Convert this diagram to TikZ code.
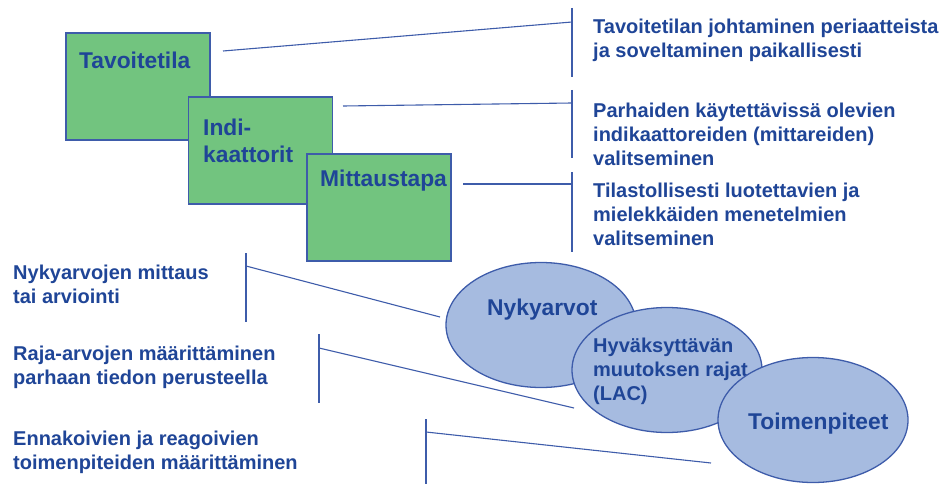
\documentclass[tikz,border=0pt]{standalone}
\usepackage{fontspec}
\setmainfont{Liberation Sans}
\usepackage{xcolor}
\usetikzlibrary{shapes.geometric,positioning,calc}
\definecolor{txtblue}{RGB}{31,69,151}
\definecolor{lineblue}{RGB}{62,92,170}
\definecolor{boxgreen}{RGB}{114,196,127}
\definecolor{ellblue}{RGB}{166,187,224}
\begin{document}
\begin{tikzpicture}[x=1pt,y=-1pt,
		small/.style={text=txtblue,font=\bfseries\fontsize{20}{24}\selectfont,align=left,inner sep=0pt,anchor=base west},
		big/.style={text=txtblue,font=\bfseries\fontsize{22.8}{27}\selectfont,align=left,inner sep=0pt,anchor=base west},
		gbox/.style={draw=lineblue,fill=boxgreen,line width=1.3pt,minimum width=144pt,minimum height=107pt,inner sep=0pt},
		oval/.style={ellipse,draw=lineblue,fill=ellblue,line width=1.3pt,minimum width=190pt,minimum height=125pt,inner sep=0pt},
		conn/.style={lineblue,line width=1.1pt}]
		\useasboundingbox (0,0) rectangle (941,484);
		% bars and their connectors
		\coordinate (bar1a) at (572,8);   \coordinate (bar1b) at (572,77);
		\coordinate (bar2a) at (572,90);  \coordinate (bar2b) at (572,158);
		\coordinate (bar3a) at (572,172); \coordinate (bar3b) at (572,252);
		\coordinate (bar4a) at (246,253); \coordinate (bar4b) at (246,322);
		\coordinate (bar5a) at (319,334); \coordinate (bar5b) at (319,403);
		\coordinate (bar6a) at (426,419); \coordinate (bar6b) at (426,484);
		\coordinate (c1a) at (223,51);  \coordinate (c1b) at (572,22);
		\coordinate (c2a) at (343,106); \coordinate (c2b) at (572,103);
		\coordinate (c3a) at (463,184); \coordinate (c3b) at (572,184);
		\coordinate (c4a) at (246,266); \coordinate (c4b) at (440,317);
		\coordinate (c5a) at (319,348); \coordinate (c5b) at (574,408);
		\coordinate (c6a) at (426,432); \coordinate (c6b) at (711,463);
		\draw[conn] (bar1a) -- (bar1b);
		\draw[conn] (bar2a) -- (bar2b);
		\draw[conn] (bar3a) -- (bar3b);
		\draw[conn] (bar4a) -- (bar4b);
		\draw[conn] (bar5a) -- (bar5b);
		\draw[conn] (bar6a) -- (bar6b);
		\draw[conn] (c1a) -- (c1b);
		\draw[conn] (c2a) -- (c2b);
		\draw[conn] (c3a) -- (c3b);
		\draw[conn] (c4a) -- (c4b);
		\draw[conn] (c5a) -- (c5b);
		\draw[conn] (c6a) -- (c6b);
		% boxes
		\node[gbox] (tavoite) at (138,86.5) {};
		\node[big] (tavoitelbl) at (79,69) {Tavoitetila};
		\node[gbox] (indik) at (260.5,150.5) {};
		\node[big] (indiklbl) at (203,162) {Indi-\\kaattorit};
		\node[gbox] (mittaus) at (379,207.5) {};
		\node[big] (mittauslbl) at (320,186) {Mittaustapa};
		% ovals
		\node[oval] (nyky) at (541,325) {};
		\node[big] (nykylbl) at (487,315) {Nykyarvot};
		\node[oval] (lac) at (667,370) {};
		\node[small] (laclbl) at (593,400) {Hyväksyttävän\\muutoksen rajat\\(LAC)};
		\node[oval] (toimet) at (813,420) {};
		\node[big] (toimetlbl) at (748,429) {Toimenpiteet};
		% texts
		\node[small] (txt1) at (593,58) {Tavoitetilan johtaminen periaatteista\\ja soveltaminen paikallisesti};
		\node[small] (txt2) at (593,165) {Parhaiden käytettävissä olevien\\indikaattoreiden (mittareiden)\\valitseminen};
		\node[small] (txt3) at (593,245) {Tilastollisesti luotettavien ja\\mielekkäiden menetelmien\\valitseminen};
		\node[small] (txt4) at (13,303) {Nykyarvojen mittaus\\tai arviointi};
		\node[small] (txt5) at (13,384) {Raja-arvojen määrittäminen\\parhaan tiedon perusteella};
		\node[small] (txt6) at (13,469) {Ennakoivien ja reagoivien\\toimenpiteiden määrittäminen};
\end{tikzpicture}
\end{document}
